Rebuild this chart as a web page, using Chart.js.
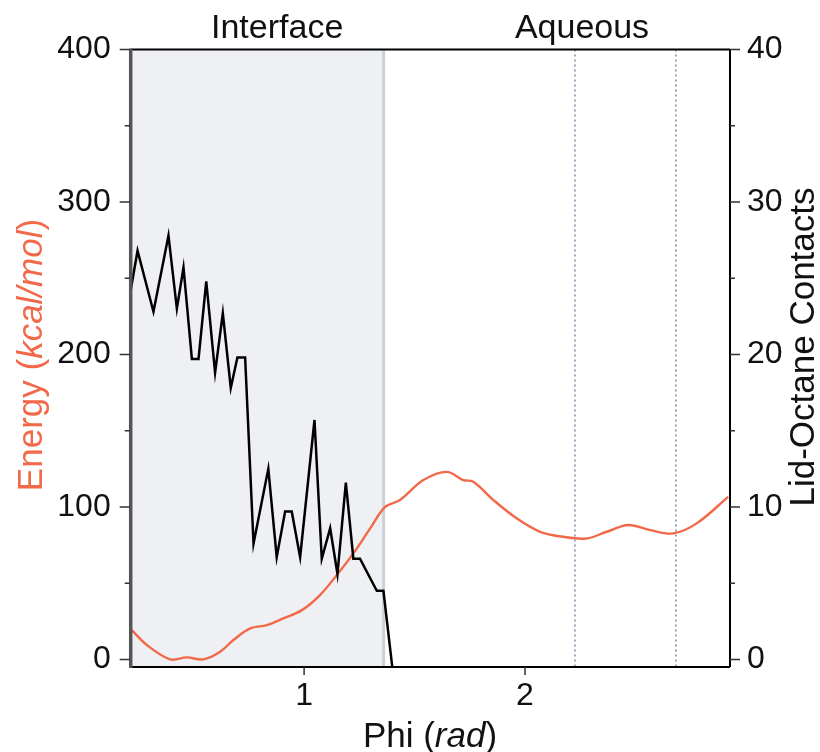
<!DOCTYPE html>
<html>
<head>
<meta charset="utf-8">
<title>Energy and lid-octane contacts vs Phi</title>
<script src="https://cdn.jsdelivr.net/npm/chart.js@4.4.1/dist/chart.umd.min.js"></script>
<style>
  html, body { margin: 0; padding: 0; background: #fff; }
  #wrap { width: 820px; height: 752px; position: relative; }
</style>
</head>
<body>
<div id="wrap"><canvas id="phiChart"></canvas></div>
<script>
// Energy profile (kcal/mol, left axis)
const energyPhi = [0.220, 0.288, 0.394, 0.469, 0.544, 0.620, 0.680, 0.756, 0.831, 0.906, 0.990,
  1.072, 1.148, 1.223, 1.299, 1.367, 1.434, 1.540, 1.646, 1.721, 1.766, 1.857, 1.962, 2.068,
  2.173, 2.279, 2.370, 2.467, 2.566, 2.671, 2.777, 2.920];
const energyValues = [19.2, 9.4, 0, 1.3, 0, 5, 12.7, 20.3, 22.5, 26.9, 32.3,
  42.2, 55.3, 69.5, 85.9, 100, 104.5, 117.6, 123, 117.6, 116.5, 104.5, 92.5, 83.7,
  80.4, 79.3, 83.7, 88.1, 84.8, 82.6, 89.2, 106.6];

// Lid-octane contacts (right axis)
const contactPhi = [0.210, 0.246, 0.318, 0.386, 0.424, 0.454, 0.492, 0.522, 0.557, 0.597,
  0.632, 0.668, 0.698, 0.733, 0.771, 0.838, 0.876, 0.914, 0.944, 0.982, 1.047, 1.080,
  1.118, 1.151, 1.189, 1.223, 1.253, 1.329, 1.359, 1.400];
const contactValues = [23.8, 26.8, 22.8, 27.8, 23, 25.7, 19.7, 19.7, 24.8, 18.8,
  22.7, 17.8, 19.8, 19.8, 7.6, 12.5, 6.7, 9.7, 9.7, 6.7, 15.7, 6.6,
  8.6, 5.6, 11.6, 6.6, 6.6, 4.5, 4.5, -0.6];

// Axis ticks and regions
const energyTicks = [0, 50, 100, 150, 200, 250, 300, 350, 400];
const contactTicks = [0, 5, 10, 15, 20, 25, 30, 35, 40];
const phiTicks = [1, 2];
const interfaceEnd = 1.36;
const markerPhi = [2.226, 2.683];
const regionLabels = [{ text: 'Interface', phi: 0.878 }, { text: 'Aqueous', phi: 2.258 }];

const FONT = "'Liberation Sans', Arial, Helvetica, sans-serif";
const ORANGE = '#f2694a';

const decorPlugin = {
  id: 'decor',
  beforeDatasetsDraw(chart) {
    const { ctx, chartArea: a, scales } = chart;
    const x = scales.x;
    ctx.save();
    // shaded interface band
    const xe = x.getPixelForValue(interfaceEnd);
    ctx.fillStyle = '#eff0f3';
    ctx.fillRect(a.left, a.top, xe - a.left, a.bottom - a.top);
    ctx.strokeStyle = '#cad1d8';
    ctx.lineWidth = 3;
    ctx.beginPath();
    ctx.moveTo(xe, a.top);
    ctx.lineTo(xe, a.bottom);
    ctx.stroke();
    // dotted markers
    ctx.strokeStyle = '#7b8ba5';
    ctx.lineWidth = 1.5;
    ctx.setLineDash([2, 3]);
    markerPhi.forEach(p => {
      const px = x.getPixelForValue(p);
      ctx.beginPath();
      ctx.moveTo(px, a.top);
      ctx.lineTo(px, a.bottom);
      ctx.stroke();
    });
    ctx.restore();
  },
  afterDraw(chart) {
    const { ctx, chartArea: a, scales } = chart;
    ctx.save();
    // frame: top, bottom, right black; left grey
    ctx.strokeStyle = '#000';
    ctx.lineWidth = 2;
    ctx.beginPath();
    ctx.moveTo(a.left, a.top); ctx.lineTo(a.right, a.top);
    ctx.moveTo(a.left, a.bottom); ctx.lineTo(a.right, a.bottom);
    ctx.moveTo(a.right, a.top); ctx.lineTo(a.right, a.bottom);
    ctx.stroke();
    ctx.strokeStyle = '#555';
    ctx.lineWidth = 3.5;
    ctx.beginPath();
    ctx.moveTo(a.left, a.top - 1); ctx.lineTo(a.left, a.bottom + 1);
    ctx.stroke();

    // tick marks
    ctx.lineWidth = 1.5;
    ctx.strokeStyle = '#333';
    ctx.beginPath();
    scales.y.ticks.forEach(t => {
      const py = scales.y.getPixelForValue(t.value);
      const len = t.value % 100 === 0 ? 10 : 5;
      ctx.moveTo(a.left - 1, py); ctx.lineTo(a.left - 1 - len, py);
    });
    scales.y2.ticks.forEach(t => {
      const py = scales.y2.getPixelForValue(t.value);
      const len = t.value % 10 === 0 ? 10 : 5;
      ctx.moveTo(a.right, py); ctx.lineTo(a.right + len, py);
    });
    scales.x.ticks.forEach(t => {
      const px = scales.x.getPixelForValue(t.value);
      ctx.moveTo(px, a.bottom); ctx.lineTo(px, a.bottom + 8);
    });
    ctx.stroke();

    // region labels above the plot
    ctx.fillStyle = '#111';
    ctx.font = '34px ' + FONT;
    ctx.textAlign = 'center';
    ctx.textBaseline = 'alphabetic';
    regionLabels.forEach(r => {
      ctx.fillText(r.text, scales.x.getPixelForValue(r.phi), 38);
    });

    // x title: Phi (rad)
    drawMixed(ctx, [['Phi (', false], ['rad', true], [')', false]], 430, 747, '#111', 0);
    // left title: Energy (kcal/mol)
    drawMixed(ctx, [['Energy (', false], ['kcal/mol', true], [')', false]], 42, 355, ORANGE, -Math.PI / 2);
    // right title
    drawMixed(ctx, [['Lid-Octane Contacts', false]], 814, 347, '#111', -Math.PI / 2);
    ctx.restore();
  }
};

function drawMixed(ctx, parts, cx, cy, color, rot) {
  ctx.save();
  ctx.translate(cx, cy);
  ctx.rotate(rot);
  ctx.fillStyle = color;
  ctx.textAlign = 'left';
  ctx.textBaseline = 'alphabetic';
  const fontFor = it => (it ? 'italic ' : '') + '35px ' + FONT;
  let total = 0;
  parts.forEach(([s, it]) => { ctx.font = fontFor(it); total += ctx.measureText(s).width; });
  let xp = -total / 2;
  parts.forEach(([s, it]) => {
    ctx.font = fontFor(it);
    ctx.fillText(s, xp, 0);
    xp += ctx.measureText(s).width;
  });
  ctx.restore();
}

new Chart(document.getElementById('phiChart'), {
  type: 'line',
  data: {
    datasets: [
      {
        label: 'Lid-Octane Contacts',
        data: contactPhi.map((p, i) => ({ x: p, y: contactValues[i] })),
        yAxisID: 'y2',
        borderColor: '#000',
        borderWidth: 2.5,
        pointRadius: 0,
        tension: 0,
        clip: 0
      },
      {
        label: 'Energy',
        data: energyPhi.map((p, i) => ({ x: p, y: energyValues[i] })),
        yAxisID: 'y',
        borderColor: ORANGE,
        borderWidth: 2.4,
        pointRadius: 0,
        tension: 0.35,
        clip: 0
      }
    ]
  },
  options: {
    responsive: true,
    maintainAspectRatio: false,
    animation: false,
    layout: { padding: { top: 49.5, left: 0, right: 0, bottom: 0 } },
    plugins: {
      legend: { display: false },
      tooltip: { enabled: false }
    },
    scales: {
      x: {
        type: 'linear',
        min: 0.215,
        max: 2.928,
        afterBuildTicks: s => { s.ticks = phiTicks.map(v => ({ value: v })); },
        afterFit: s => { s.height = 85; },
        grid: { display: false, drawTicks: false },
        border: { display: false },
        ticks: { color: '#111', font: { size: 32, family: FONT }, padding: 10 }
      },
      y: {
        position: 'left',
        min: -5,
        max: 400,
        afterBuildTicks: s => { s.ticks = energyTicks.map(v => ({ value: v })); },
        afterFit: s => { s.width = 130.7; },
        grid: { display: false, drawTicks: false },
        border: { display: false },
        ticks: {
          color: '#111',
          font: { size: 32, family: FONT },
          padding: 20,
          callback: v => (v % 100 === 0 ? v : '')
        }
      },
      y2: {
        position: 'right',
        min: -0.5,
        max: 40,
        afterBuildTicks: s => { s.ticks = contactTicks.map(v => ({ value: v })); },
        afterFit: s => { s.width = 90; },
        grid: { display: false, drawTicks: false },
        border: { display: false },
        ticks: {
          color: '#111',
          font: { size: 32, family: FONT },
          padding: 17,
          callback: v => (v % 10 === 0 ? v : '')
        }
      }
    }
  },
  plugins: [decorPlugin]
});
</script>
</body>
</html>
